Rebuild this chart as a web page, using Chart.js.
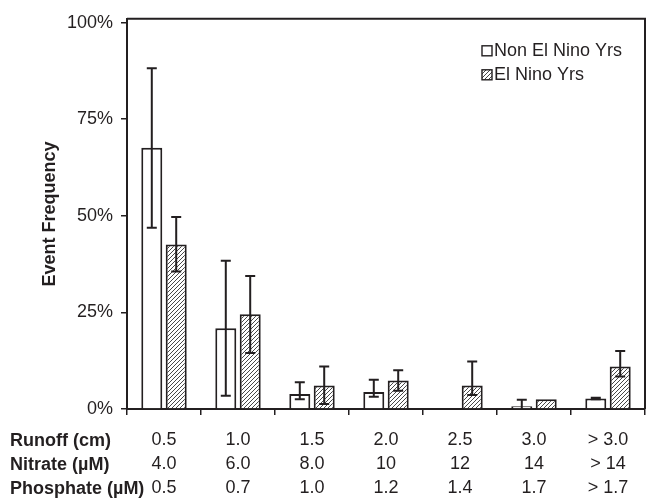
<!DOCTYPE html>
<html>
<head>
<meta charset="utf-8">
<script src="https://cdn.jsdelivr.net/npm/chart.js@4/dist/chart.umd.min.js"></script>
<style>
  html, body { margin: 0; padding: 0; background: #fff; }
  #wrap { width: 648px; height: 500px; }
</style>
</head>
<body>
<div id="wrap"><canvas id="chart"></canvas></div>
<script>
// categories (one per runoff class), table rows under the axis
const runoff = ['0.5', '1.0', '1.5', '2.0', '2.5', '3.0', '> 3.0'];
const nitrate = ['4.0', '6.0', '8.0', '10', '12', '14', '> 14'];
const phosphate = ['0.5', '0.7', '1.0', '1.2', '1.4', '1.7', '> 1.7'];
const rowHeaders = ['Runoff (cm)', 'Nitrate (\u00b5M)', 'Phosphate (\u00b5M)'];

// event frequency (%) and error bar limits
const nonElNino = [67.6, 20.9, 3.9, 4.4, 0.2, 0.7, 2.7];
const nonElLow = [46.9, 3.4, 2.5, 3.2, null, 0, 2.5];
const nonElHigh = [88.2, 38.4, 6.9, 7.6, null, 2.4, 2.9];
const elNino = [42.6, 24.5, 6.1, 7.4, 6.1, 2.5, 11.0];
const elLow = [35.6, 14.5, 1.3, 4.7, 3.6, null, 8.4];
const elHigh = [49.7, 34.4, 11.0, 10.0, 12.3, null, 15.0];

const yTicks = [0, 25, 50, 75, 100];
const seriesNames = ['Non El Nino Yrs', 'El Nino Yrs'];

const ink = '#231f20';
const fontSize = 18;

// diagonal hatch fill
const makeHatch = () => {
    const c = document.createElement('canvas');
    c.width = 4; c.height = 4;
    const g = c.getContext('2d');
    g.fillStyle = '#fff';
    g.fillRect(0, 0, 4, 4);
    g.strokeStyle = '#333';
    g.lineWidth = 0.9;
    g.beginPath();
    g.moveTo(-1, 5); g.lineTo(5, -1);
    g.moveTo(-1, 1); g.lineTo(1, -1);
    g.moveTo(3, 5); g.lineTo(5, 3);
    g.stroke();
    return g.createPattern(c, 'repeat');
};
const hatch = makeHatch();

const labels = runoff.map((r, i) => [r, nitrate[i], phosphate[i]]);

const errorBars = {
    id: 'errorBars',
    afterDatasetsDraw(chart) {
        const ctx = chart.ctx;
        const y = chart.scales.y;
        const lims = [[nonElLow, nonElHigh], [elLow, elHigh]];
        ctx.save();
        ctx.strokeStyle = ink;
        ctx.lineWidth = 2;
        chart.data.datasets.forEach((ds, d) => {
            const meta = chart.getDatasetMeta(d);
            meta.data.forEach((bar, i) => {
                const lo = lims[d][0][i], hi = lims[d][1][i];
                if (lo === null || hi === null) return;
                const yl = y.getPixelForValue(lo), yh = y.getPixelForValue(hi);
                ctx.beginPath();
                ctx.moveTo(bar.x, yl); ctx.lineTo(bar.x, yh);
                ctx.moveTo(bar.x - 5, yh); ctx.lineTo(bar.x + 5, yh);
                if (lo > 0) { ctx.moveTo(bar.x - 5, yl); ctx.lineTo(bar.x + 5, yl); }
                ctx.stroke();
            });
        });
        ctx.restore();
    }
};

const frameAndLegend = {
    id: 'frameAndLegend',
    afterDraw(chart) {
        const ctx = chart.ctx;
        const a = chart.chartArea;
        ctx.save();
        // box round the plot
        ctx.strokeStyle = ink;
        ctx.lineWidth = 2;
        ctx.beginPath();
        ctx.moveTo(a.left, a.top); ctx.lineTo(a.right, a.top); ctx.lineTo(a.right, a.bottom);
        ctx.stroke();
        // legend
        ctx.font = fontSize + 'px "Liberation Sans", Arial, sans-serif';
        ctx.textBaseline = 'middle';
        chart.data.datasets.forEach((ds, d) => {
            const bx = a.right - 163, by = a.top + 27 + d * 24;
            ctx.fillStyle = ds.backgroundColor;
            ctx.fillRect(bx, by, 10, 10);
            ctx.lineWidth = 1.4;
            ctx.strokeRect(bx, by, 10, 10);
            ctx.fillStyle = ink;
            ctx.fillText(ds.label, bx + 12, by + 5.5);
        });
        // row headers of the table under the x axis
        ctx.font = 'bold ' + fontSize + 'px "Liberation Sans", Arial, sans-serif';
        ctx.textAlign = 'left';
        rowHeaders.forEach((h, i) => {
            ctx.fillText(h, 10, a.bottom + 32 + i * 24);
        });
        ctx.restore();
    }
};

Chart.defaults.font.family = '"Liberation Sans", Arial, sans-serif';
Chart.defaults.color = ink;

new Chart(document.getElementById('chart'), {
    type: 'bar',
    data: {
        labels: labels,
        datasets: [
            {
                label: seriesNames[0],
                data: nonElNino,
                backgroundColor: '#fff',
                borderColor: ink,
                borderWidth: 2,
                categoryPercentage: 0.66,
                barPercentage: 0.86
            },
            {
                label: seriesNames[1],
                data: elNino,
                backgroundColor: hatch,
                borderColor: ink,
                borderWidth: 2,
                categoryPercentage: 0.66,
                barPercentage: 0.86
            }
        ]
    },
    options: {
        responsive: true,
        maintainAspectRatio: false,
        animation: false,
        layout: { padding: { top: 11, right: 3, left: 0, bottom: 0 } },
        plugins: {
            legend: { display: false },
            tooltip: { enabled: false }
        },
        scales: {
            x: {
                grid: { drawOnChartArea: false, tickLength: 6, color: ink, lineWidth: 1.5 },
                border: { color: ink, width: 2 },
                ticks: { font: { size: fontSize, lineHeight: '24px' }, padding: 13, maxRotation: 0, autoSkip: false },
                afterFit: (s) => { s.height = 91; }
            },
            y: {
                min: 0,
                max: 101,
                afterBuildTicks: (s) => { s.ticks = yTicks.map(v => ({ value: v })); },
                grid: { drawOnChartArea: false, tickLength: 6, color: ink, lineWidth: 1.5 },
                border: { color: ink, width: 2 },
                ticks: { font: { size: fontSize }, padding: 8, callback: (v) => v + '%' },
                title: {
                    display: true,
                    text: 'Event Frequency',
                    font: { size: fontSize, weight: 'bold' },
                    padding: { top: 39, bottom: 0 }
                },
                afterFit: (s) => { s.width = 127; }
            }
        }
    },
    plugins: [errorBars, frameAndLegend]
});
</script>
</body>
</html>
